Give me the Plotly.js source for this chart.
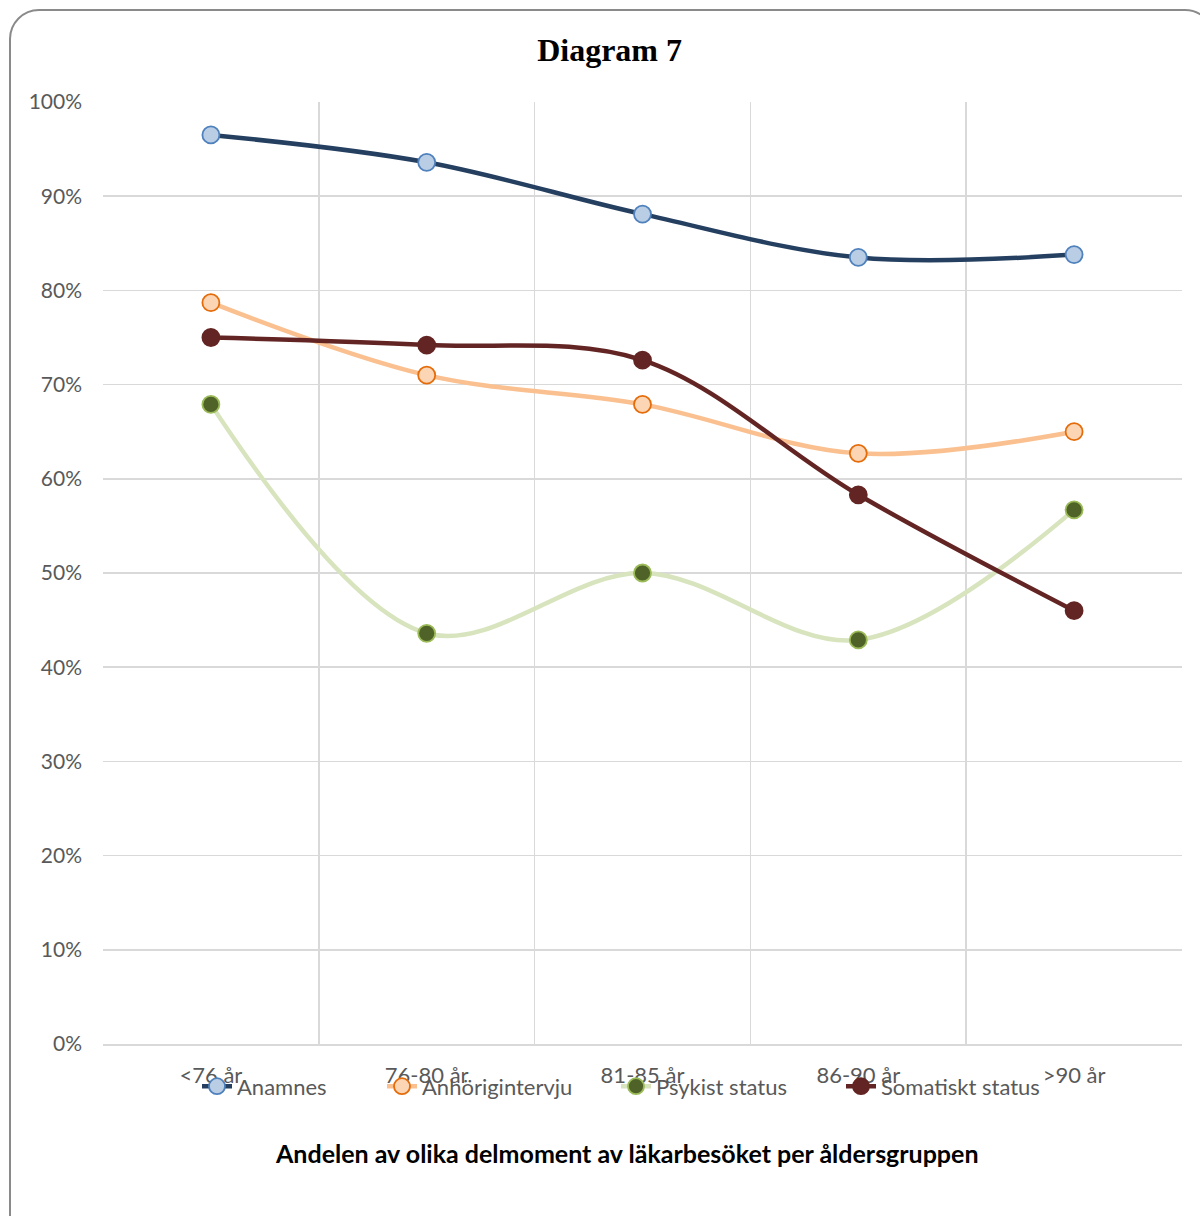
<!DOCTYPE html>
<html>
<head>
<meta charset="utf-8">
<script src="https://cdn.plot.ly/plotly-3.0.1.min.js"></script>
<style>
  html, body { margin: 0; padding: 0; background: #fff; overflow: hidden; }
  #wrap { position: relative; width: 1200px; height: 1216px; overflow: hidden; }
  #frame { position: absolute; left: 9px; top: 9px; width: 1206px; height: 1236px;
           border: 2px solid #8a8a8a; border-radius: 30px; box-sizing: border-box; pointer-events: none; }
  #chart { position: absolute; left: 0; top: 0; width: 1200px; height: 1216px; }
</style>
</head>
<body>
<div id="wrap">
  <div id="chart"></div>
  <div id="frame"></div>
</div>
<script>
const categories = ["<76 år", "76-80 år", "81-85 år", "86-90 år", ">90 år"];
const seriesNames = ["Anamnes", "Anhörigintervju", "Psykist status", "Somatiskt status"];
const anamnes = [96.5, 93.6, 88.1, 83.5, 83.8];
const anhorigintervju = [78.7, 71.0, 67.9, 62.7, 65.0];
const psykistStatus = [67.9, 43.6, 50.0, 42.9, 56.7];
const somatisktStatus = [75.0, 74.2, 72.6, 58.3, 46.0];
const yTicks = [0, 10, 20, 30, 40, 50, 60, 70, 80, 90, 100];
const yTickLabels = ["0%", "10%", "20%", "30%", "40%", "50%", "60%", "70%", "80%", "90%", "100%"];

const xIdx = categories.map((c, i) => i);

function series(name, y, lineColor, fill, border, legendId) {
  return {
    type: 'scatter', mode: 'lines+markers', name: name,
    x: xIdx, y: y, legend: legendId,
    line: { color: lineColor, width: 4.5, shape: 'spline', smoothing: 1 },
    marker: { symbol: 'circle', size: 17, color: fill, line: { color: border, width: 1.8 } },
    hoverinfo: 'name+y'
  };
}

const data = [
  series(seriesNames[0], anamnes, '#243F60', '#B9CDE5', '#4F81BD', 'legend'),
  series(seriesNames[1], anhorigintervju, '#FAC090', '#FCD5B5', '#E46C0A', 'legend2'),
  series(seriesNames[2], psykistStatus, '#D7E4BD', '#4F6228', '#9BBB59', 'legend3'),
  series(seriesNames[3], somatisktStatus, '#632523', '#632523', '#632523', 'legend4')
];

const plotL = 103, plotW = 1079;
function legendAt(px) {
  return {
    orientation: 'h', x: (px - plotL) / plotW, xanchor: 'left', y: -0.045, yanchor: 'middle',
    bgcolor: 'rgba(0,0,0,0)', font: { size: 22, color: '#595959' }
  };
}

const layout = {
  width: 1200, height: 1216,
  margin: { l: 103, r: 18, t: 102, b: 172 },
  paper_bgcolor: 'rgba(0,0,0,0)', plot_bgcolor: '#fff',
  font: { family: 'Lato, "Open Sans", sans-serif', color: '#595959', size: 21 },
  title: {
    text: '<b>Diagram 7</b>',
    font: { family: '"Liberation Serif", "Times New Roman", serif', size: 32, color: '#000' },
    x: 0.508, xanchor: 'center', y: 0.959, yanchor: 'middle', xref: 'container', yref: 'container'
  },
  xaxis: {
    range: [-0.5, 4.5], tickmode: 'array', tickvals: xIdx, ticktext: categories,
    showgrid: false, zeroline: false, ticks: '', ticklabelstandoff: 11,
    showline: true, linecolor: '#D9D9D9', linewidth: 1.5,
    tickfont: { size: 22, color: '#595959' },
    minor: { tickmode: 'linear', tick0: -0.5, dtick: 1, showgrid: true, gridcolor: '#D9D9D9', gridwidth: 1.5, ticks: '' },
    fixedrange: true
  },
  yaxis: {
    range: [0, 100], tickmode: 'array', tickvals: yTicks, ticktext: yTickLabels,
    showgrid: true, gridcolor: '#D9D9D9', gridwidth: 1.5, zeroline: false,
    ticks: '', ticklabelstandoff: 20, showline: false,
    tickfont: { size: 21, color: '#595959' },
    fixedrange: true
  },
  showlegend: true,
  legend: legendAt(197),
  legend2: legendAt(382),
  legend3: legendAt(616),
  legend4: legendAt(841),
  annotations: [{
    text: '<b>Andelen av olika delmoment av läkarbesöket per åldersgruppen</b>',
    xref: 'paper', yref: 'paper', x: 0.486, y: -0.1157, xanchor: 'center', yanchor: 'middle',
    showarrow: false, font: { size: 25, color: '#000' }
  }]
};

Plotly.newPlot('chart', data, layout, { displayModeBar: false, staticPlot: true });
</script>
</body>
</html>
